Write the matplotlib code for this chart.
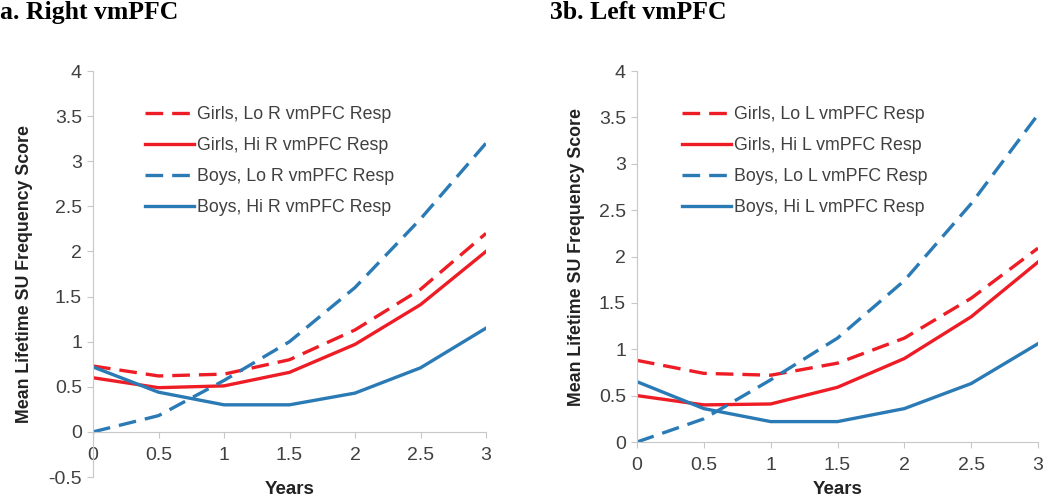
import matplotlib
matplotlib.use("Agg")
import matplotlib.pyplot as plt

years = [0, 0.5, 1, 1.5, 2, 2.5, 3]

# Panel a: Right vmPFC
r_girls_lo = [0.73, 0.62, 0.64, 0.80, 1.13, 1.58, 2.20]
r_girls_hi = [0.60, 0.49, 0.51, 0.66, 0.97, 1.41, 2.00]
r_boys_lo = [0.00, 0.18, 0.57, 1.00, 1.60, 2.36, 3.20]
r_boys_hi = [0.72, 0.44, 0.30, 0.30, 0.43, 0.71, 1.15]
r_labels = ["Girls, Lo R vmPFC Resp", "Girls, Hi R vmPFC Resp",
            "Boys, Lo R vmPFC Resp", "Boys, Hi R vmPFC Resp"]

# Panel b: Left vmPFC
l_girls_lo = [0.88, 0.74, 0.72, 0.85, 1.12, 1.55, 2.09]
l_girls_hi = [0.50, 0.40, 0.41, 0.59, 0.90, 1.35, 1.94]
l_boys_lo = [0.00, 0.25, 0.67, 1.12, 1.74, 2.57, 3.53]
l_boys_hi = [0.65, 0.36, 0.22, 0.22, 0.36, 0.63, 1.06]
l_labels = ["Girls, Lo L vmPFC Resp", "Girls, Hi L vmPFC Resp",
            "Boys, Lo L vmPFC Resp", "Boys, Hi L vmPFC Resp"]

xticks = [0, 0.5, 1, 1.5, 2, 2.5, 3]
xticklabels = ["0", "0.5", "1", "1.5", "2", "2.5", "3"]

RED = "#ee1c25"
BLUE = "#2a7ab6"
GRID = "#c8c8c8"
TXT = "#404040"

plt.rcParams["font.family"] = ["Liberation Sans", "DejaVu Sans"]

fig = plt.figure(figsize=(10.5, 4.98), dpi=100)

def panel(rect, series, labels, ylim, yticks, title, title_x, ylabel_x, xlabel_y, leg_anchor):
    ax = fig.add_axes(rect)
    styles = [(RED, True), (RED, False), (BLUE, True), (BLUE, False)]
    for vals, lab, (c, dashed) in zip(series, labels, styles):
        if dashed:
            ax.plot(years, vals, color=c, lw=2.4, dashes=(5.3, 2.7), label=lab,
                    solid_capstyle="butt", dash_capstyle="butt")
        else:
            ax.plot(years, vals, color=c, lw=2.4, label=lab)
    ax.set_xlim(0, 3)
    ax.set_ylim(*ylim)
    ax.set_yticks(yticks)
    ax.set_yticklabels([("%g" % v) for v in yticks])
    ax.set_xticks(xticks)
    ax.set_xticklabels(xticklabels)
    for s in ["top", "right"]:
        ax.spines[s].set_visible(False)
    ax.spines["left"].set_color(GRID)
    ax.spines["bottom"].set_color(GRID)
    ax.spines["bottom"].set_position(("data", 0))
    ax.tick_params(axis="both", colors=TXT, labelsize=14, length=4, width=0.8, color=GRID)
    ax.tick_params(axis="x", pad=7)
    ax.tick_params(axis="y", pad=4)
    ax.set_ylabel("Mean Lifetime SU Frequency Score", fontsize=12.8, fontweight="bold", color="#222222")
    ax.yaxis.set_label_coords(ylabel_x, 0.5)
    ax.set_xlabel("Years", fontsize=13.5, fontweight="bold", color="#222222")
    ax.xaxis.set_label_coords(0.5, xlabel_y)
    ax.xaxis.label.set_va("center")
    leg = ax.legend(loc="upper left", bbox_to_anchor=leg_anchor, frameon=False,
                    fontsize=12.8, handlelength=2.75, handletextpad=0.2,
                    labelspacing=0.78, borderaxespad=0, borderpad=0)
    for t in leg.get_texts():
        t.set_color(TXT)
    fig.text(title_x, 1 - 1 / 498, title, family=["Liberation Serif", "DejaVu Serif"],
             fontsize=18.5, fontweight="bold", va="top", ha="left")
    return ax

panel([93 / 1050, 21 / 498, 393 / 1050, 406 / 498],
      [r_girls_lo, r_girls_hi, r_boys_lo, r_boys_hi], r_labels,
      (-0.5, 4), [-0.5, 0, 0.5, 1, 1.5, 2, 2.5, 3, 3.5, 4],
      "a. Right vmPFC", 0.0, -0.153, -0.032, (0.132, 0.913))

panel([637 / 1050, 56 / 498, 401 / 1050, 371 / 498],
      [l_girls_lo, l_girls_hi, l_boys_lo, l_boys_hi], l_labels,
      (0, 4), [0, 0.5, 1, 1.5, 2, 2.5, 3, 3.5, 4],
      "3b. Left vmPFC", 550 / 1050, -0.13, -0.129, (0.112, 0.905))

fig.savefig("out.png", dpi=100)
